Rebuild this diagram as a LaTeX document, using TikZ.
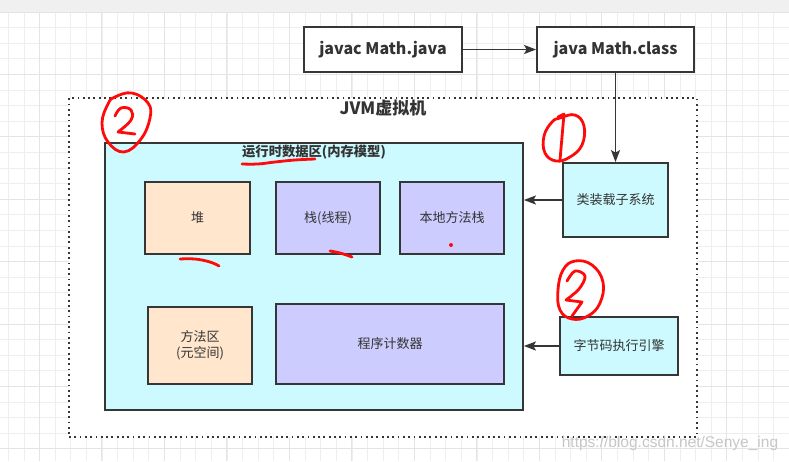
\documentclass[tikz,border=0pt]{standalone}
\usepackage{fontspec}
\setmainfont{Noto Sans CJK SC}
\newfontfamily\wmfont{Liberation Sans}
\usetikzlibrary{arrows.meta}
\definecolor{txt}{HTML}{333333}
\definecolor{edgec}{HTML}{363636}
\definecolor{cyanfill}{HTML}{CCFAFF}
\definecolor{peach}{HTML}{FFE6CC}
\definecolor{lav}{HTML}{CCCCFF}
\definecolor{gridc}{HTML}{EEEEEE}
\definecolor{gridm}{HTML}{E4E4E4}
\definecolor{topbar}{HTML}{F0F0F0}
\definecolor{annoc}{HTML}{FF0A0A}
\tikzset{
  box/.style={draw=edgec, line width=1.8pt, text=txt, font=\fontsize{13}{16}\selectfont, align=center, inner sep=0pt},
  boldbox/.style={box, font=\bfseries\fontsize{16}{19}\selectfont},
  lbl/.style={text=txt, inner sep=0pt},
  conn/.style={draw=edgec, line width=1.8pt, -{Stealth[length=12pt,width=9pt,inset=2.5pt]}},
  anno/.style={draw=annoc, line width=2.8pt, line cap=round, line join=round},
  gridminor/.style={draw=gridc, line width=0.8pt},
  gridmajor/.style={draw=gridm, line width=1pt}
}
\begin{document}
\begin{tikzpicture}[x=1pt,y=-1pt]
\useasboundingbox (0,0) rectangle (789,461);
% background
\fill[white] (0,0) rectangle (789,461);
\fill[topbar] (0,0) rectangle (789,12);
\foreach \i in {0,...,50} {
  \pgfmathsetmacro\gx{8.3+15.62*\i}
  \draw[gridminor] (\gx,12) -- (\gx,461);
}
\foreach \j in {0,...,29} {
  \pgfmathsetmacro\gy{12+15.6*\j}
  \draw[gridminor] (0,\gy) -- (789,\gy);
}
\foreach \i in {0,...,12} {
  \pgfmathsetmacro\gx{39.5+62.48*\i}
  \draw[gridmajor] (\gx,12) -- (\gx,461);
}
\foreach \j in {0,...,7} {
  \pgfmathsetmacro\gy{12+62.4*\j}
  \draw[gridmajor] (0,\gy) -- (789,\gy);
}
% JVM container
\node[draw=edgec, fill=white, line width=1.8pt, dash pattern=on 1.8pt off 3.5pt, minimum width=628pt, minimum height=339pt, inner sep=0pt] (jvm) at (383,267.5) {};
\node[lbl, font=\bfseries\fontsize{17}{20}\selectfont] (jvmlabel) at (383,108.5) {JVM虚拟机};
% top row
\node[boldbox, fill=white, minimum width=158pt, minimum height=45pt] (javac) at (383,49.5) {javac Math.java};
\node[boldbox, fill=white, minimum width=157pt, minimum height=45pt] (javaclass) at (615.5,49.5) {java Math.class};
% runtime data area
\node[box, fill=cyanfill, minimum width=418pt, minimum height=267pt] (runtime) at (314,276.5) {};
\node[lbl, font=\bfseries\fontsize{13.3}{16}\selectfont] (rtlabel) at (314,152) {运行时数据区(内存模型)};
\node[box, fill=peach, minimum width=105pt, minimum height=72pt] (heap) at (197.5,218) {堆};
\node[box, fill=lav, minimum width=104pt, minimum height=72pt] (stack) at (328,218) {栈(线程)};
\node[box, fill=lav, minimum width=104pt, minimum height=72pt] (native) at (452,218) {本地方法栈};
\node[box, fill=peach, minimum width=104pt, minimum height=77pt] (method) at (200,345.5) {方法区\\(元空间)};
\node[box, fill=lav, minimum width=228pt, minimum height=80pt] (pc) at (390,344) {程序计数器};
% subsystems
\node[box, fill=cyanfill, minimum width=105pt, minimum height=74pt] (loader) at (615.5,200) {类装载子系统};
\node[box, fill=cyanfill, minimum width=118pt, minimum height=58pt] (engine) at (619,346) {字节码执行引擎};
% connectors
\draw[conn] (javac) -- (javaclass);
\draw[conn] (javaclass.south) -- (loader.north);
\draw[conn] (loader.west) -- (runtime.east |- loader.west);
\draw[conn] (engine.west) -- (runtime.east |- engine.west);
% red annotations
\draw[anno] plot[smooth cycle, tension=0.7] coordinates {(115,97) (132,93) (148,103) (150,118) (141,139) (124,152) (108,142) (102,123) (108,104)};
\draw[anno] plot[smooth, tension=0.7] coordinates {(115,116) (121,108) (131,110) (131,120) (118,132)} -- (135,134);
\draw[anno] plot[smooth cycle, tension=0.7] coordinates {(560,118) (575,115) (584,126) (582,145) (570,157) (556,161) (545,153) (544,136) (552,122)};
\draw[anno] (558,117) -- (564,114) -- (560,160);
\draw[anno] plot[smooth cycle, tension=0.7] coordinates {(575,261) (592,265) (603,282) (600,303) (588,316) (572,319) (560,310) (558,290) (563,270)};
\draw[anno] plot[smooth, tension=0.6] coordinates {(567,281) (575,271) (585,276) (579,289) (566,300)} -- (582,302) -- (572,316);
\draw[anno] plot[smooth, tension=0.7] coordinates {(242,164) (258,164) (275,162) (295,160) (315,159)};
\draw[anno] plot[smooth, tension=0.7] coordinates {(180,259) (195,259) (210,262) (219,266)};
\draw[anno] plot[smooth, tension=0.7] coordinates {(330,251) (340,253) (352,257)};
\fill[annoc] (451,245) circle (2pt);
% watermark
\node[text=black!22, font=\wmfont\fontsize{15.5}{18}\selectfont, inner sep=0pt] (wm) at (670,443) {https://blog.csdn.net/Senye\_ing};
\end{tikzpicture}
\end{document}
